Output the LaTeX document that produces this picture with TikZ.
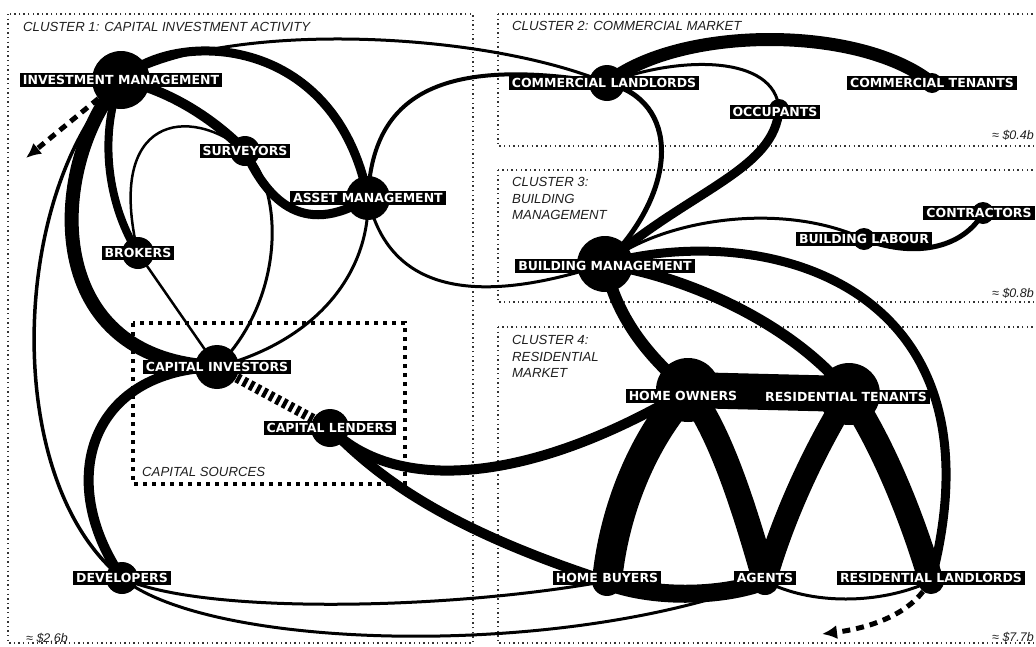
\documentclass[tikz,border=0pt]{standalone}
\usepackage{fontspec}
\newfontfamily\tagfamily{DejaVu Sans}
\newfontfamily\notefamily{Liberation Sans}
\usetikzlibrary{arrows.meta,backgrounds}

\begin{document}
\begin{tikzpicture}[x=1pt,y=-1pt,
  hub/.style={circle,fill=black,inner sep=0pt,minimum size=#1},
  tag/.style={fill=black,text=white,inner xsep=3pt,inner ysep=2.2pt,text height=9.1pt,text depth=0pt,
    font=\tagfamily\bfseries\fontsize{12.5}{12.5}\selectfont},
  note/.style={text=black!88,inner sep=0pt,align=left,font=\notefamily\itshape\fontsize{13.2}{16.5}\selectfont},
  money/.style={text=black!88,inner sep=0pt,font=\notefamily\itshape\fontsize{12.5}{14}\selectfont},
  cluster/.style={draw=black!80,line width=1.4pt,dash pattern=on 1.4pt off 3.2pt},
  sources/.style={draw=black,line width=4pt,dash pattern=on 4pt off 5pt},
  link/.style={draw=black,line cap=round,line width=#1},
  flowarrow/.style={draw=black,line width=5pt,dash pattern=on 8pt off 6pt,-{Latex[length=15pt,width=14pt]}},
]
\useasboundingbox (0,0) rectangle (1036,646);

% actors
\node[hub=58pt] (im) at (121,80) {};
\node[hub=30pt] (sur) at (245,151) {};
\node[hub=44pt] (am) at (368,198) {};
\node[hub=32pt] (bro) at (138,253) {};
\node[hub=44pt] (ci) at (217,367) {};
\node[hub=38pt] (cle) at (330,428) {};
\node[hub=32pt] (dev) at (122,578) {};
\node[hub=36pt] (cla) at (607,83) {};
\node[hub=20pt] (occ) at (779,109) {};
\node[hub=20pt] (cte) at (932,83) {};
\node[hub=56pt] (bm) at (605,264) {};
\node[hub=22pt] (bla) at (864,239) {};
\node[hub=22pt] (con) at (983,213) {};
\node[hub=64pt] (ho) at (688,390) {};
\node[hub=62pt] (rt) at (849,394) {};
\node[hub=26pt] (hb) at (607,581) {};
\node[hub=28pt] (age) at (765,581) {};
\node[hub=26pt] (rl) at (931,581) {};
\coordinate (imout) at (26,158);
\coordinate (rlout) at (822,634);

% labels
\node[tag] at (im) {INVESTMENT MANAGEMENT};
\node[tag] at (sur) {SURVEYORS};
\node[tag] at (am) {ASSET MANAGEMENT};
\node[tag] at (bro) {BROKERS};
\node[tag] at (ci) {CAPITAL INVESTORS};
\node[tag] at (cle) {CAPITAL LENDERS};
\node[tag] at (dev) {DEVELOPERS};
\node[tag,xshift=-3pt] at (cla) {COMMERCIAL LANDLORDS};
\node[tag,xshift=-4pt,yshift=-3pt] at (occ) {OCCUPANTS};
\node[tag] at (cte) {COMMERCIAL TENANTS};
\node[tag,yshift=-2pt] at (bm) {BUILDING MANAGEMENT};
\node[tag] at (bla) {BUILDING LABOUR};
\node[tag,xshift=-4pt] at (con) {CONTRACTORS};
\node[tag,xshift=-5pt,yshift=-6pt] at (ho) {HOME OWNERS};
\node[tag,xshift=-3pt,yshift=-3pt] at (rt) {RESIDENTIAL TENANTS};
\node[tag,yshift=3pt] at (hb) {HOME BUYERS};
\node[tag,yshift=3pt] at (age) {AGENTS};
\node[tag,yshift=3pt] at (rl) {RESIDENTIAL LANDLORDS};

\begin{pgfonlayer}{background}
  % clusters
  \draw[cluster] (8,14) rectangle (473,643);
  \draw[cluster] (498,14) rectangle (1045,146);
  \draw[cluster] (498,170) rectangle (1045,302);
  \draw[cluster] (498,327) rectangle (1045,643);
  \draw[sources] (133,323) rectangle (405,484);
  \node[note,anchor=base west] at (23,31) {CLUSTER 1: CAPITAL INVESTMENT ACTIVITY};
  \node[note,anchor=base west] at (512,30) {CLUSTER 2: COMMERCIAL MARKET};
  \node[note,anchor=north west] at (512,177.5) {CLUSTER 3:\\BUILDING\\MANAGEMENT};
  \node[note,anchor=north west] at (512,335.5) {CLUSTER 4:\\RESIDENTIAL\\MARKET};
  \node[note,anchor=base west] at (142,476) {CAPITAL SOURCES};
  \node[money,anchor=base west] at (26,642) {≈ \$2.6b};
  \node[money,anchor=base east] at (1034,139) {≈ \$0.4b};
  \node[money,anchor=base east] at (1034,297) {≈ \$0.8b};
  \node[money,anchor=base east] at (1034,641) {≈ \$7.7b};

  % cluster 1
  \draw[link=3pt] (im.center) .. controls (220,20) and (480,30) .. (cla.center);
  \draw[link=9pt] (im.center) .. controls (170,30) and (335,30) .. (am.center);
  \draw[link=10pt] (im.center) .. controls (170,90) and (215,120) .. (sur.center);
  \draw[link=9pt] (sur.center) .. controls (265,195) and (300,240) .. (am.center);
  \draw[link=8pt] (im.center) .. controls (100,130) and (105,200) .. (bro.center);
  \draw[link=14pt] (im.center) .. controls (50,160) and (35,360) .. (ci.center);
  \draw[link=3.5pt] (im.center) .. controls (10,190) and (0,480) .. (dev.center);
  \draw[link=2.5pt] (sur.center) .. controls (190,105) and (105,115) .. (bro.center);
  \draw[link=3pt] (sur.center) .. controls (285,190) and (285,300) .. (ci.center);
  \draw[link=2.5pt] (bro.center) -- (ci.center);
  \draw[link=3pt] (am.center) .. controls (370,270) and (320,340) .. (ci.center);
  \draw[link=4pt] (am.center) .. controls (372,95) and (440,55) .. (cla.center);
  \draw[link=3pt] (am.center) .. controls (385,275) and (450,315) .. (bm.center);
  \draw[link=10pt,line cap=butt,dash pattern=on 4pt off 3.5pt] (ci.center) -- (cle.center);
  \draw[link=10pt] (ci.center) .. controls (90,370) and (55,480) .. (dev.center);
  \draw[link=10pt] (cle.center) .. controls (390,490) and (520,490) .. (ho.center);
  \draw[link=10pt] (cle.center) .. controls (380,480) and (450,530) .. (hb.center);
  \draw[link=3pt] (dev.center) .. controls (200,615) and (450,610) .. (hb.center);
  \draw[link=3pt] (dev.center) .. controls (210,650) and (560,660) .. (age.center);

  % cluster 2
  \draw[link=13pt] (cla.center) .. controls (680,25) and (860,25) .. (cte.center);
  \draw[link=3pt] (cla.center) .. controls (680,55) and (775,55) .. (occ.center);
  \draw[link=5pt] (cla.center) .. controls (680,100) and (680,190) .. (bm.center);
  \draw[link=9pt] (occ.center) .. controls (775,170) and (690,190) .. (bm.center);

  % cluster 3
  \draw[link=3pt] (bm.center) .. controls (660,220) and (780,200) .. (bla.center);
  \draw[link=5pt] (bla.center) .. controls (920,260) and (965,245) .. (con.center);
  \draw[link=12pt] (bm.center) .. controls (615,310) and (640,350) .. (ho.center);
  \draw[link=11pt] (bm.center) .. controls (680,275) and (790,320) .. (rt.center);
  \draw[link=9pt] (bm.center) .. controls (760,220) and (1010,280) .. (rl.center);

  % cluster 4
  \draw[link=36pt] (ho.center) -- (rt.center);
  \draw[link=30pt] (ho.center) .. controls (650,430) and (615,500) .. (hb.center);
  \draw[link=25pt] (ho.center) .. controls (720,430) and (745,510) .. (age.center);
  \draw[link=23pt] (rt.center) .. controls (820,440) and (785,510) .. (age.center);
  \draw[link=25pt] (rt.center) .. controls (880,440) and (910,510) .. (rl.center);
  \draw[link=18pt] (hb.center) .. controls (650,598) and (720,598) .. (age.center);
  \draw[link=3pt] (age.center) .. controls (810,605) and (880,605) .. (rl.center);

  % outflows
  \draw[flowarrow] (im) -- (imout);
  \draw[flowarrow] (rl) .. controls (905,615) and (870,628) .. (rlout);
\end{pgfonlayer}
\end{tikzpicture}
\end{document}
